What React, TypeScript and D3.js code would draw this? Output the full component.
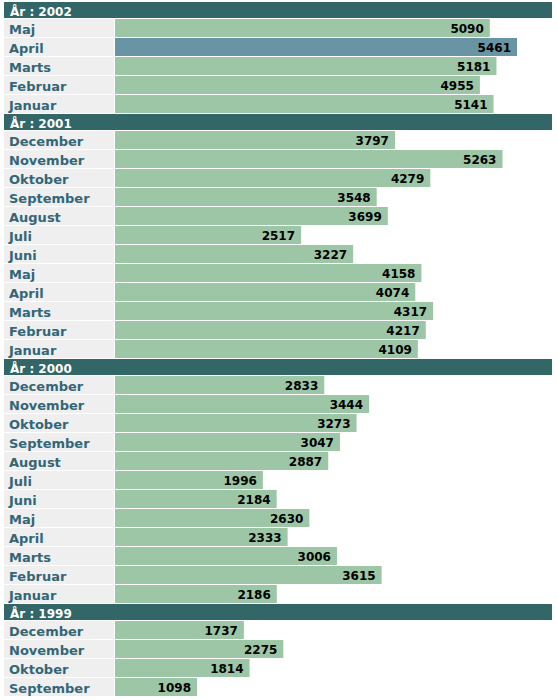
import React from "react";
import * as d3 from "d3";

const years = ["2002", "2001", "2000", "1999"];
const months2002 = ["Maj", "April", "Marts", "Februar", "Januar"];
const values2002 = [5090, 5461, 5181, 4955, 5141];
const monthsFull = ["December", "November", "Oktober", "September", "August", "Juli", "Juni", "Maj", "April", "Marts", "Februar", "Januar"];
const values2001 = [3797, 5263, 4279, 3548, 3699, 2517, 3227, 4158, 4074, 4317, 4217, 4109];
const values2000 = [2833, 3444, 3273, 3047, 2887, 1996, 2184, 2630, 2333, 3006, 3615, 2186];
const months1999 = ["December", "November", "Oktober", "September"];
const values1999 = [1737, 2275, 1814, 1098];
const highlighted = { year: "2002", month: "April" };

const groups = [
  { year: years[0], months: months2002, values: values2002 },
  { year: years[1], months: monthsFull, values: values2001 },
  { year: years[2], months: monthsFull, values: values2000 },
  { year: years[3], months: months1999, values: values1999 },
];

const W = 557;
const H = 700;
const LEFT = 4;
const RIGHT = 552;
const LABEL_W = 110;
const BAR_X = 115;
const HEADER_H = 16;
const HEADER_STEP = 17;
const ROW_H = 18;
const ROW_STEP = 19;
const FONT = "'DejaVu Sans', Verdana, sans-serif";

export default function App() {
  const allValues = groups.flatMap((g) => g.values);
  const x = d3.scaleLinear().domain([0, d3.max(allValues) as number]).range([BAR_X + 1.5, 517]);

  const items: React.ReactNode[] = [];
  let y = 2;
  groups.forEach((g) => {
    items.push(
      <g key={"h" + g.year}>
        <rect x={LEFT} y={y} width={RIGHT - LEFT} height={HEADER_H} fill="#336666" />
        <text x={10} y={y + 14} fill="#ffffff" fontFamily={FONT} fontWeight="bold" fontSize={12}>
          {"År : " + g.year}
        </text>
      </g>
    );
    y += HEADER_STEP;
    g.months.forEach((m, i) => {
      const v = g.values[i];
      const end = x(v);
      const hi = g.year === highlighted.year && m === highlighted.month;
      items.push(
        <g key={g.year + m}>
          <rect x={LEFT} y={y} width={LABEL_W} height={ROW_H} fill="#efefef" />
          <text x={9} y={y + 15} fill="#336677" fontFamily={FONT} fontWeight="bold" fontSize={13}>
            {m}
          </text>
          <rect x={BAR_X} y={y} width={end - BAR_X} height={ROW_H} fill={hi ? "#6994a4" : "#9cc6a5"} />
          <text x={end - 6} y={y + 14} textAnchor="end" fill="#000000" fontFamily={FONT} fontWeight="bold" fontSize={12}>
            {v}
          </text>
        </g>
      );
      y += ROW_STEP;
    });
  });

  return (
    <svg width={W} height={H} style={{ position: "absolute", left: 0, top: 0, background: "#ffffff" }}>
      {items}
    </svg>
  );
}
